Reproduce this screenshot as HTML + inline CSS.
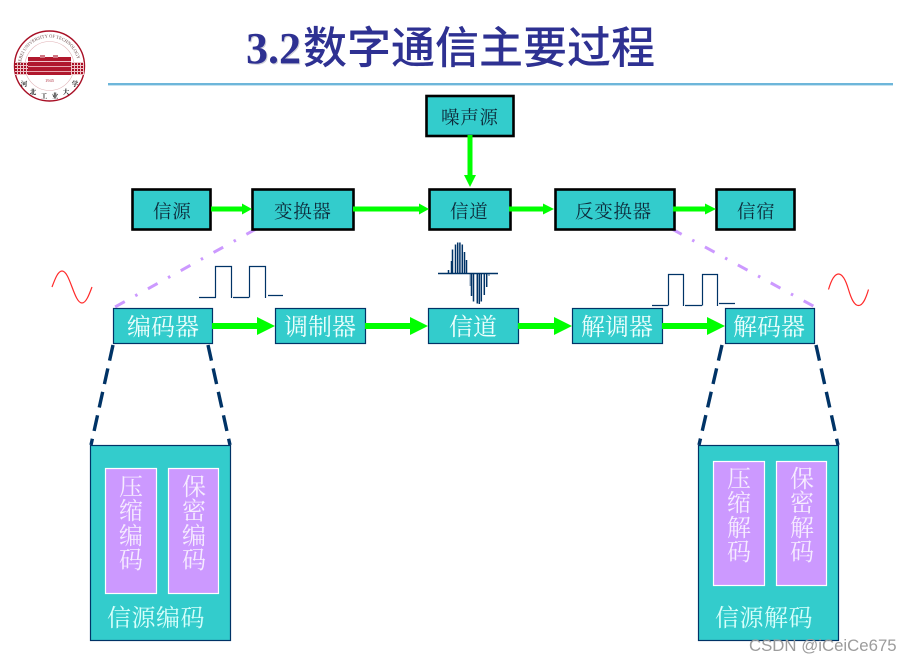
<!DOCTYPE html>
<html><head><meta charset="utf-8"><style>
html,body{margin:0;padding:0;background:#fff;width:900px;height:661px;overflow:hidden}
svg{display:block}
.s{font-family:"Liberation Serif","Noto Serif CJK SC",serif}
.k{fill:#0d2a3a;font-size:18.5px;letter-spacing:.7px}
.w{fill:#eefffd;font-size:24px}
.v{fill:#f6ecff;font-size:24px;letter-spacing:0}
.b{fill:#d8fffb;font-size:24px;letter-spacing:.5px}
</style></head><body>
<svg width="900" height="661" viewBox="0 0 900 661" xmlns="http://www.w3.org/2000/svg">
<defs>
<pattern id="g" width="3" height="3" patternUnits="userSpaceOnUse"><rect width="3" height="3" fill="#a80f25"/><rect x="2" width="1" height="3" fill="#eec4c8"/><rect y="2" width="3" height="1" fill="#eec4c8"/></pattern>
<path id="arc" d="M21 66 A28.5 28.5 0 0 1 78 66"/>
</defs>

<!-- logo -->
<circle cx="49.5" cy="66" r="35" fill="#fff" stroke="#a80f25" stroke-width="1.4"/>
<circle cx="49.5" cy="66" r="24.5" fill="#fff" stroke="#dfb0b4" stroke-width=".6"/>
<rect x="15" y="62" width="69" height="13" fill="url(#g)"/>
<rect x="28" y="57" width="43" height="18" fill="#b0182d"/>
<rect x="28" y="61" width="43" height="1" fill="#eec4c8"/>
<rect x="28" y="66" width="43" height="1" fill="#e8a8b0"/>
<rect x="28" y="71" width="43" height="1" fill="#e8a8b0"/>
<rect x="40" y="55" width="5" height="3" fill="#d07884"/><rect x="53" y="55" width="5" height="3" fill="#d07884"/>
<text x="49.5" y="82" text-anchor="middle" font-family="Liberation Serif,serif" font-size="4.5" fill="#b03040">1945</text>
<text font-family="Liberation Serif,serif" font-size="4.6" fill="#6a4a4a"><textPath href="#arc" startOffset="1%">HEBEI UNIVERSITY OF TECHNOLOGY</textPath></text>
<g class="s" font-size="6.5" fill="#222" font-weight="bold" text-anchor="middle">
<text x="24" y="86">河</text><text x="33" y="94">北</text><text x="44" y="98">工</text><text x="55" y="98">业</text><text x="66" y="94">大</text><text x="75" y="86">学</text>
</g>

<!-- title -->
<g>
<text x="247" y="64" font-family="Liberation Serif,serif" font-weight="bold" font-size="44" fill="#cfcfd8">3.2</text>
<text x="246" y="63" font-family="Liberation Serif,serif" font-weight="bold" font-size="44" fill="#2e3192">3.2</text>
<text x="303" y="63" font-family="Noto Sans CJK SC,sans-serif" font-weight="500" font-size="44" fill="#2e3192">数字通信主要过程</text>
</g>
<rect x="108" y="83" width="785" height="2.4" fill="#6db6da"/>

<!-- purple dash-dot -->
<g stroke="#cc99ff" stroke-width="3" fill="none" stroke-dasharray="11 12 2.5 12">
<path d="M256 229 L115 307"/>
<path d="M672 229 L815 307"/>
</g>

<!-- navy dashes -->
<g stroke="#003366" stroke-width="3.4" fill="none" stroke-dasharray="16 8">
<path d="M113 345 L91 445"/><path d="M208 345 L230 445"/>
<path d="M722 345 L699 445"/><path d="M816 345 L838 445"/>
</g>

<!-- top row boxes -->
<g fill="#33cccc" stroke="#000" stroke-width="2.6">
<rect x="426.5" y="96" width="87" height="40"/>
<rect x="132.5" y="189.5" width="78" height="40"/>
<rect x="252.5" y="189.5" width="101" height="40"/>
<rect x="429.5" y="189.5" width="81" height="40"/>
<rect x="555.5" y="189.5" width="119" height="40"/>
<rect x="716.5" y="189.5" width="78" height="40"/>
</g>

<!-- top row arrows -->
<g fill="#00ff00">
<path d="M211 206.5 H242 V203.5 L252 209 L242 214.5 V211.5 H211Z"/>
<path d="M353 206.5 H419 V203.5 L429 209 L419 214.5 V211.5 H353Z"/>
<path d="M509 206.5 H543 V203.5 L554 209 L543 214.5 V211.5 H509Z"/>
<path d="M673 206.5 H705 V203.5 L716 209 L705 214.5 V211.5 H673Z"/>
<path d="M467.5 135 H472.5 V175 H476 L470 187 L464 175 H467.5Z"/>
</g>

<!-- top row text -->
<g class="s k">
<text x="441" y="124">噪声源</text>
<text x="153" y="218">信源</text>
<text x="274" y="218">变换器</text>
<text x="450" y="218">信道</text>
<text x="575" y="218">反变换器</text>
<text x="737" y="218">信宿</text>
</g>

<!-- second row boxes -->
<g fill="#33cccc" stroke="#003366" stroke-width="1.2">
<rect x="113.5" y="308.5" width="99" height="35"/>
<rect x="275.5" y="308.5" width="90" height="35"/>
<rect x="428.5" y="308.5" width="90" height="35"/>
<rect x="572.5" y="308.5" width="90" height="35"/>
<rect x="725.5" y="308.5" width="89" height="35"/>
</g>

<!-- second row arrows -->
<g fill="#00ff00">
<path d="M212 323 H257 V317 L275 326 L257 335 V329 H212Z"/>
<path d="M365 323 H410 V317 L428 326 L410 335 V329 H365Z"/>
<path d="M518 323 H554 V317 L572 326 L554 335 V329 H518Z"/>
<path d="M662 323 H707 V317 L725 326 L707 335 V329 H662Z"/>
</g>

<g class="s w">
<text x="127" y="335">编码器</text>
<text x="284" y="335">调制器</text>
<text x="449" y="335">信道</text>
<text x="581" y="335">解调器</text>
<text x="733" y="335">解码器</text>
</g>

<!-- sine waves -->
<g fill="none" stroke="#ff2a2a" stroke-width="1.2">
<path d="M52 287 C55 279 58 271 62 271 C66 271 69 279 72 287 C75 295 78 303 82 303 C86 303 89 295 92 287"/>
<path d="M828.5 289.5 C831 281 834 274 838.5 274 C843 274 846 281 848.5 289.5 C851 298 854 305.5 858.5 305.5 C863 305.5 866 298 868.5 289.5"/>
</g>

<!-- pulses -->
<g fill="none" stroke="#003366" stroke-width="1.2">
<path d="M199 297.5 H216 M215.5 297.5 V266.5 H231.5 V298 M233 297.5 H249 M249.5 297.5 V266.5 H265.5 V298 M268 295.5 H283"/>
<path d="M652 305.5 H668 M668.5 305.5 V274.5 H683.5 V306 M685 305.5 H702 M702.5 305.5 V274.5 H717.5 V306 M719 303.5 H735"/>
</g>

<!-- burst -->
<g stroke="#003366" stroke-width="1.5" fill="none">
<path d="M438 273.5 H498"/>
<path d="M448.5 273 V270 M451.5 273 V261 M452.5 273 V249.5 M455.5 273 V244.5 M457.7 273 V242.5 M459.9 273 V242.5 M462.3 273 V244.5 M464.5 273 V252 M466.5 273 V260"/>
<path d="M471.5 274 V296 M473.5 274 V301.5 M477.3 274 V303.5 M479.3 274 V304 M481.3 274 V301.5 M484.3 274 V295 M486.7 274 V287"/>
<path d="M470.3 274 V286 M489 274 V276" stroke-opacity=".5"/>
</g>

<!-- bottom blocks -->
<g fill="#33cccc" stroke="#003366" stroke-width="1.2">
<rect x="90.5" y="445.5" width="140" height="195"/>
<rect x="698.5" y="445.5" width="140" height="195"/>
</g>
<g fill="#cc99ff" stroke="#fff" stroke-width="1.2">
<rect x="105.5" y="468.5" width="51" height="125"/>
<rect x="168.5" y="468.5" width="50" height="125"/>
<rect x="713.5" y="461.5" width="51" height="124"/>
<rect x="776.5" y="461.5" width="50" height="124"/>
</g>
<g class="s v">
<text x="119" y="495">压</text><text x="119" y="519">缩</text><text x="119" y="544">编</text><text x="119" y="568">码</text>
<text x="182" y="495">保</text><text x="182" y="519">密</text><text x="182" y="544">编</text><text x="182" y="568">码</text>
<text x="727" y="487">压</text><text x="727" y="511">缩</text><text x="727" y="536">解</text><text x="727" y="560">码</text>
<text x="790" y="487">保</text><text x="790" y="511">密</text><text x="790" y="536">解</text><text x="790" y="560">码</text>
</g>
<g class="s b">
<text x="107" y="626">信源编码</text>
<text x="715" y="626">信源解码</text>
</g>

<!-- watermark -->
<text x="749" y="651" font-family="Liberation Sans,sans-serif" font-size="16.8" fill="#9c9c9c">CSDN @iCeiCe675</text>
</svg>
</body></html>
